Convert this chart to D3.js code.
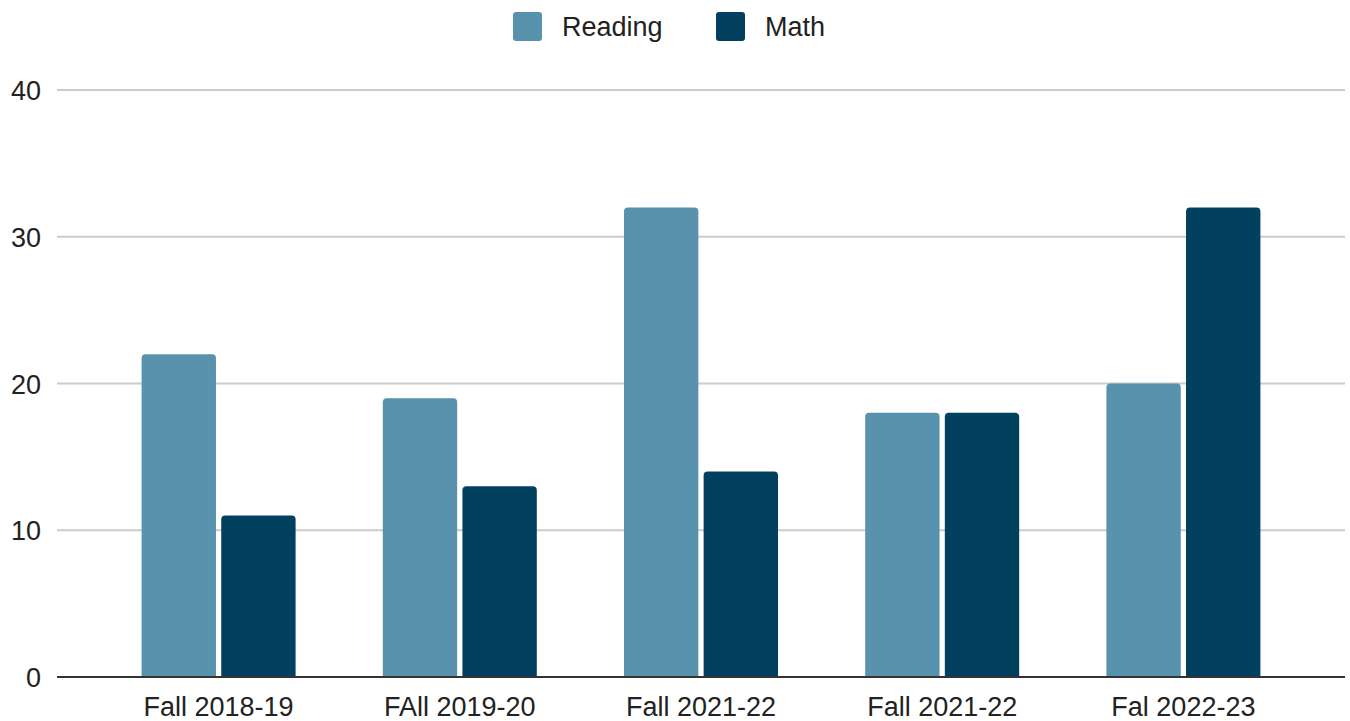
<!DOCTYPE html>
<html>
<head>
<meta charset="utf-8">
<script src="https://cdn.jsdelivr.net/npm/d3@7"></script>
<style>
  body { margin: 0; background: #fff; }
  text { font-family: "Liberation Sans", Arial, sans-serif; fill: #222; }
</style>
</head>
<body>
<script>
// Data
const categories = ["Fall 2018-19", "FAll 2019-20", "Fall 2021-22", "Fall 2021-22", "Fal 2022-23"];
const reading = [22, 19, 32, 18, 20];
const math = [11, 13, 14, 18, 32];
const seriesNames = ["Reading", "Math"];
const yTicks = [0, 10, 20, 30, 40];

const colors = {Reading: "#5892ac", Math: "#01405e"};

const width = 1350, height = 721;

const svg = d3.select("body").append("svg")
    .attr("width", width)
    .attr("height", height);

const x = d3.scaleBand()
    .domain(d3.range(categories.length))
    .range([98, 1304]);

const xInner = d3.scaleBand()
    .domain(seriesNames)
    .range([x.bandwidth() / 2 - 77, x.bandwidth() / 2 + 77])
    .paddingInner(0.066);

const y = d3.scaleLinear()
    .domain([0, 40])
    .range([677, 90]);

// gridlines
svg.append("g")
    .selectAll("line")
    .data(yTicks.filter(d => d > 0))
    .enter().append("line")
    .attr("x1", 57).attr("x2", 1345)
    .attr("y1", d => y(d)).attr("y2", d => y(d))
    .attr("stroke", "#cccccc")
    .attr("stroke-width", 2);

// y labels
svg.append("g")
    .selectAll("text")
    .data(yTicks)
    .enter().append("text")
    .attr("x", 41)
    .attr("y", d => y(d) + 10)
    .attr("text-anchor", "end")
    .attr("font-size", 27)
    .text(d => d);

// bars
const rows = categories.map((c, i) => ({i, Reading: reading[i], Math: math[i]}));

function barPath(x0, w, yTop, yBot, r) {
  return `M${x0},${yBot}V${yTop + r}Q${x0},${yTop} ${x0 + r},${yTop}H${x0 + w - r}Q${x0 + w},${yTop} ${x0 + w},${yTop + r}V${yBot}Z`;
}

const groups = svg.append("g")
    .selectAll("g")
    .data(rows)
    .enter().append("g")
    .attr("transform", d => `translate(${x(d.i)},0)`);

groups.selectAll("path")
    .data(d => seriesNames.map(k => ({key: k, value: d[k]})))
    .enter().append("path")
    .attr("d", d => barPath(xInner(d.key), xInner.bandwidth(), y(d.value), y(0), 4))
    .attr("fill", d => colors[d.key]);

// baseline
svg.append("line")
    .attr("x1", 57).attr("x2", 1345)
    .attr("y1", y(0)).attr("y2", y(0))
    .attr("stroke", "#333")
    .attr("stroke-width", 2);

// x labels
svg.append("g")
    .selectAll("text")
    .data(categories)
    .enter().append("text")
    .attr("x", (d, i) => x(i) + x.bandwidth() / 2)
    .attr("y", 716)
    .attr("text-anchor", "middle")
    .attr("font-size", 27)
    .text(d => d);

// legend
const legendX = [513, 716];
const legend = svg.append("g")
    .selectAll("g")
    .data(seriesNames)
    .enter().append("g")
    .attr("transform", (d, i) => `translate(${legendX[i]},12)`);

legend.append("rect")
    .attr("width", 29).attr("height", 29)
    .attr("rx", 3)
    .attr("fill", d => colors[d]);

legend.append("text")
    .attr("x", 49)
    .attr("y", 24)
    .attr("font-size", 27)
    .text(d => d);
</script>
</body>
</html>
